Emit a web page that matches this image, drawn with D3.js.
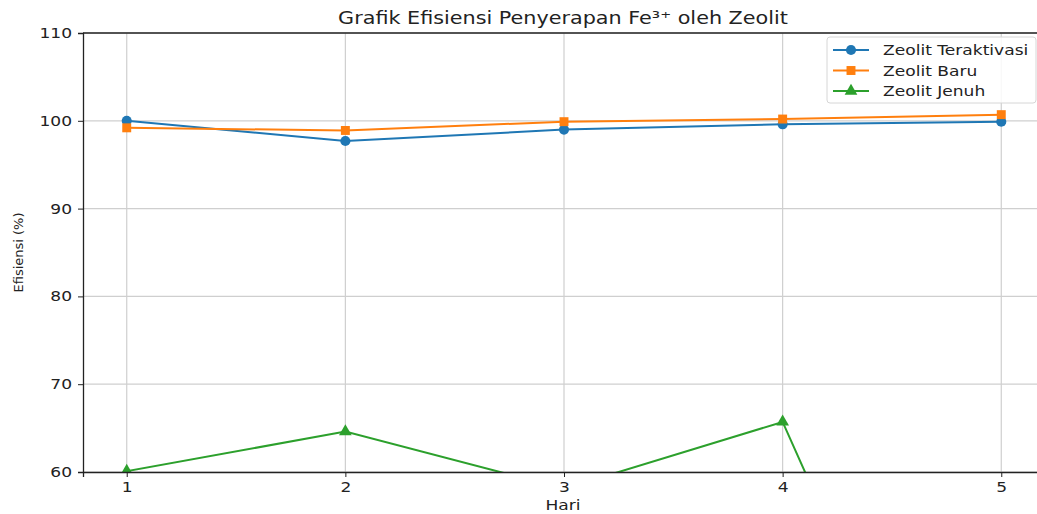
<!DOCTYPE html>
<html>
<head>
<meta charset="utf-8">
<script src="https://cdn.jsdelivr.net/npm/d3@7"></script>
<style>
  body { margin: 0; background: #fff; }
  svg text { font-family: "DejaVu Sans", sans-serif; fill: #222; }
</style>
</head>
<body>
<div id="vis"></div>
<script>
//data
const HARI = [1, 2, 3, 4, 5];
const TERAKTIVASI = [100.0, 97.7, 99.0, 99.6, 99.9];
const BARU = [99.2, 98.9, 99.9, 100.2, 100.7];
const JENUH = [60.1, 64.6, 58.1, 65.7, 10.0];
const Y_TICKS = [60, 70, 80, 90, 100, 110];
const SERIES_NAMES = ["Zeolit Teraktivasi", "Zeolit Baru", "Zeolit Jenuh"];

const FRAME_WIDTH = 1037;
const FRAME_HEIGHT = 514;
const MARGINS = {left: 83, right: -8, top: 33, bottom: 42};
const VIS_WIDTH = FRAME_WIDTH - MARGINS.left - MARGINS.right;
const VIS_HEIGHT = FRAME_HEIGHT - MARGINS.top - MARGINS.bottom;

//the picture is a bit stretched sideways, so horizontal text gets widened
const STRETCH = 1.22;

const COLORS = ["#1f77b4", "#ff7f0e", "#2ca02c"];
const SYMBOLS = [d3.symbolCircle, d3.symbolSquare, d3.symbolTriangle];
const SYMBOL_SIZE = [80, 80, 70];

const FRAME = d3.select("#vis")
  .append("svg")
  .attr("width", FRAME_WIDTH)
  .attr("height", FRAME_HEIGHT);

const X_SCALE = d3.scaleLinear().domain([0.8, 5.2]).range([0, VIS_WIDTH]);
const Y_SCALE = d3.scaleLinear().domain([60, 110]).range([VIS_HEIGHT, 0]);

const G = FRAME.append("g")
  .attr("transform", "translate(" + MARGINS.left + "," + MARGINS.top + ")");

//grid
G.append("g").selectAll("line").data(HARI).join("line")
  .attr("x1", d => X_SCALE(d)).attr("x2", d => X_SCALE(d))
  .attr("y1", 0).attr("y2", VIS_HEIGHT)
  .attr("stroke", "#cfcfcf").attr("stroke-width", 1.2);
G.append("g").selectAll("line").data(Y_TICKS).join("line")
  .attr("x1", 0).attr("x2", VIS_WIDTH)
  .attr("y1", d => Y_SCALE(d)).attr("y2", d => Y_SCALE(d))
  .attr("stroke", "#cfcfcf").attr("stroke-width", 1.2);

//clip for lines
FRAME.append("defs").append("clipPath").attr("id", "clip")
  .append("rect").attr("width", VIS_WIDTH).attr("height", VIS_HEIGHT);

const ALL = [TERAKTIVASI, BARU, JENUH];
const line = d3.line().x((d, i) => X_SCALE(HARI[i])).y(d => Y_SCALE(d));

const PLOT = G.append("g").attr("clip-path", "url(#clip)");
ALL.forEach((vals, k) => {
  PLOT.append("path")
    .attr("d", line(vals))
    .attr("fill", "none")
    .attr("stroke", COLORS[k])
    .attr("stroke-width", 2);
  PLOT.selectAll(null).data(vals).join("path")
    .attr("transform", (d, i) => "translate(" + X_SCALE(HARI[i]) + "," + Y_SCALE(d) + ")")
    .attr("d", d3.symbol().type(SYMBOLS[k]).size(SYMBOL_SIZE[k]))
    .attr("fill", COLORS[k]);
});

//axes
const X_AXIS = G.append("g")
  .attr("transform", "translate(0," + VIS_HEIGHT + ")")
  .call(d3.axisBottom(X_SCALE).tickValues(HARI).tickFormat(d3.format("d")).tickSize(5).tickPadding(5));
const Y_AXIS = G.append("g")
  .call(d3.axisLeft(Y_SCALE).tickValues(Y_TICKS).tickSize(5).tickPadding(4));
[X_AXIS, Y_AXIS].forEach(a => {
  a.select(".domain").attr("stroke", "#222").attr("stroke-width", 1.3);
  a.selectAll(".tick line").attr("stroke", "#222");
  a.selectAll("text").attr("font-size", "14px").attr("fill", "#333")
    .attr("transform", "scale(" + STRETCH + ",1)");
});
//top spine
G.append("line").attr("x1", 0).attr("x2", VIS_WIDTH).attr("y1", 0).attr("y2", 0)
  .attr("stroke", "#222").attr("stroke-width", 1.3);

function wideText(parent, x, y, size, str, anchor) {
  return parent.append("text")
    .attr("transform", "translate(" + x + "," + y + ") scale(" + STRETCH + ",1)")
    .attr("text-anchor", anchor).attr("font-size", size)
    .text(str);
}

//labels
wideText(FRAME, 563, 24, "17px", "Grafik Efisiensi Penyerapan Fe\u00b3\u207a oleh Zeolit", "middle");
wideText(FRAME, 563, 510, "14px", "Hari", "middle");
FRAME.append("text")
  .attr("transform", "translate(23," + (MARGINS.top + VIS_HEIGHT / 2) + ") rotate(-90)")
  .attr("text-anchor", "middle").attr("font-size", "13px")
  .text("Efisiensi (%)");

//legend
const LEG = FRAME.append("g").attr("transform", "translate(827,37)");
LEG.append("rect").attr("width", 209).attr("height", 66).attr("rx", 3)
  .attr("fill", "#fff").attr("fill-opacity", 0.85)
  .attr("stroke", "#d6d6d6");
SERIES_NAMES.forEach((name, k) => {
  const y = 13 + k * 20.5;
  LEG.append("line").attr("x1", 6).attr("x2", 42).attr("y1", y).attr("y2", y)
    .attr("stroke", COLORS[k]).attr("stroke-width", 2);
  LEG.append("path").attr("transform", "translate(24," + y + ")")
    .attr("d", d3.symbol().type(SYMBOLS[k]).size(SYMBOL_SIZE[k]))
    .attr("fill", COLORS[k]);
  wideText(LEG, 56, y + 5, "14px", name, "start");
});
</script>
</body>
</html>
